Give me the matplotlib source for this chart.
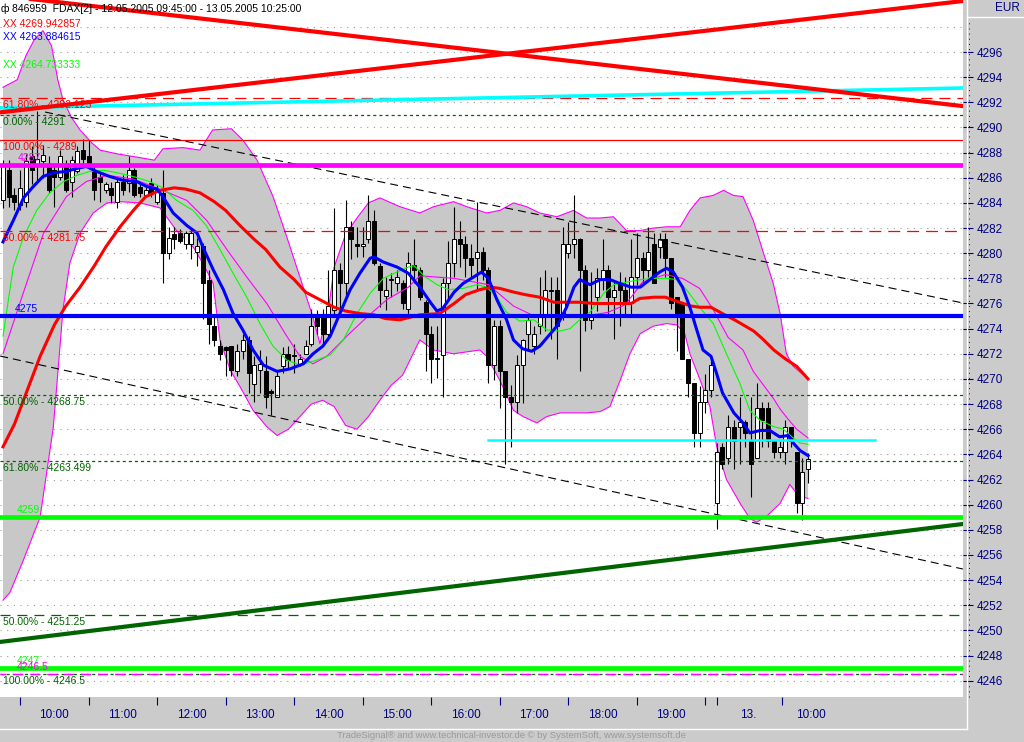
import numpy as np
import matplotlib
matplotlib.use("Agg")
import matplotlib.pyplot as plt
from matplotlib.lines import Line2D

plt.rcParams['font.family'] = ['Liberation Sans', 'DejaVu Sans']
plt.rcParams['lines.scale_dashes'] = False

# ---------------- data ----------------
opens = [4284.2, 4286.6, 4284.6, 4283.8, 4284.1, 4287.7, 4287.0, 4287.3, 4287.0, 4286.6,
         4286.1, 4287.0, 4285.7, 4286.5, 4288.2, 4287.7, 4286.5, 4286.1, 4285.0, 4285.2,
         4284.1, 4285.7, 4285.6, 4286.6, 4285.3, 4284.6, 4285.6, 4284.1, 4284.8, 4280.0,
         4281.5, 4281.6, 4280.7, 4280.7, 4280.1, 4280.6, 4277.9, 4274.2, 4272.6, 4272.5,
         4272.6, 4270.6, 4272.2, 4273.1, 4269.6, 4270.7, 4270.6, 4269.0, 4268.6, 4271.0,
         4272.0, 4271.9, 4271.2, 4272.0, 4272.8, 4274.9, 4274.9, 4273.6, 4275.5, 4278.7,
         4277.6, 4282.1, 4280.7, 4280.6, 4281.1, 4282.6, 4279.0, 4276.6, 4277.9, 4277.6,
         4277.6, 4275.6, 4279.1, 4278.7, 4276.1, 4273.6, 4271.6, 4271.9, 4277.6, 4279.2,
         4281.1, 4280.7, 4279.6, 4279.6, 4280.1, 4278.7, 4271.1, 4274.2, 4270.6, 4268.6,
         4268.2, 4271.1, 4273.6, 4272.6, 4274.2, 4275.2, 4277.1, 4277.1, 4275.2, 4280.0,
         4280.7, 4281.1, 4278.7, 4274.7, 4276.5, 4277.9, 4278.7, 4276.5, 4277.6, 4277.1,
         4276.0, 4278.1, 4279.6, 4278.7, 4280.7, 4280.5, 4281.1, 4279.6, 4276.5, 4276.0,
         4271.6, 4269.7, 4265.7, 4268.2, 4269.1, 4260.1, 4264.6, 4263.7, 4266.2, 4266.2,
         4266.6, 4265.1, 4263.7, 4267.7, 4267.7, 4265.1, 4264.2, 4264.2, 4266.2, 4264.2,
         4260.1, 4262.8]
highs = [4287.4, 4287.4, 4285.2, 4286.6, 4287.9, 4288.5, 4291.3, 4288.6, 4287.7, 4287.1,
         4288.2, 4287.4, 4287.7, 4288.5, 4289.1, 4289.0, 4287.1, 4286.4, 4285.7, 4285.7,
         4286.1, 4286.2, 4287.7, 4286.8, 4285.6, 4285.4, 4286.0, 4285.4, 4286.6, 4282.1,
         4282.1, 4281.9, 4281.8, 4282.0, 4281.2, 4280.8, 4278.7, 4275.0, 4273.1, 4272.6,
         4272.6, 4272.8, 4273.6, 4273.4, 4271.8, 4272.3, 4271.8, 4269.2, 4270.7, 4272.5,
         4272.6, 4272.8, 4272.0, 4273.1, 4275.6, 4275.5, 4275.6, 4278.7, 4283.6, 4279.2,
         4284.2, 4282.6, 4282.1, 4282.1, 4284.6, 4283.4, 4279.2, 4278.1, 4278.4, 4278.7,
         4277.9, 4280.1, 4281.1, 4278.9, 4276.3, 4274.2, 4274.2, 4278.0, 4281.0, 4283.7,
         4282.6, 4281.4, 4280.7, 4284.1, 4280.5, 4278.9, 4274.7, 4274.7, 4270.6, 4269.5,
         4271.9, 4273.2, 4275.0, 4274.2, 4278.1, 4278.7, 4278.1, 4278.1, 4282.1, 4282.5,
         4284.6, 4281.2, 4279.1, 4278.5, 4278.8, 4281.1, 4279.1, 4277.9, 4278.5, 4278.1,
         4281.1, 4281.6, 4280.1, 4282.1, 4281.6, 4281.6, 4281.6, 4279.6, 4276.5, 4276.0,
         4271.6, 4269.7, 4269.4, 4270.4, 4271.6, 4264.9, 4264.9, 4267.1, 4266.7, 4268.6,
         4266.7, 4268.6, 4269.7, 4268.2, 4268.2, 4265.1, 4265.1, 4266.7, 4266.2, 4264.2,
         4263.7, 4264.1]
lows = [4283.6, 4283.7, 4283.4, 4283.4, 4283.7, 4285.5, 4285.6, 4286.0, 4284.8, 4283.7,
        4285.8, 4284.9, 4284.5, 4286.4, 4287.0, 4286.9, 4284.2, 4284.1, 4284.8, 4284.0,
        4283.6, 4284.6, 4284.9, 4284.5, 4284.5, 4284.5, 4284.5, 4283.9, 4277.6, 4279.5,
        4280.3, 4280.8, 4280.3, 4279.5, 4279.0, 4274.8, 4272.8, 4272.6, 4271.5, 4270.2,
        4270.2, 4270.2, 4271.6, 4268.9, 4268.2, 4268.9, 4267.7, 4267.1, 4268.6, 4270.5,
        4270.8, 4270.5, 4271.0, 4272.0, 4272.6, 4273.6, 4272.7, 4273.1, 4275.0, 4275.5,
        4276.5, 4279.5, 4279.7, 4279.7, 4280.8, 4279.1, 4275.7, 4275.5, 4276.5, 4277.0,
        4275.6, 4275.2, 4277.6, 4276.3, 4270.6, 4269.7, 4270.1, 4268.6, 4276.3, 4278.1,
        4278.9, 4278.1, 4278.1, 4277.1, 4277.9, 4269.7, 4269.9, 4267.7, 4263.2, 4264.6,
        4267.3, 4268.1, 4272.2, 4272.0, 4273.6, 4273.8, 4273.2, 4271.6, 4274.7, 4279.6,
        4279.6, 4270.6, 4273.8, 4274.0, 4275.4, 4277.1, 4275.2, 4273.2, 4274.2, 4275.0,
        4275.0, 4277.5, 4277.6, 4278.1, 4277.6, 4279.6, 4278.1, 4275.6, 4272.2, 4271.6,
        4268.6, 4264.6, 4264.6, 4267.3, 4268.6, 4258.1, 4262.8, 4263.2, 4262.8, 4263.2,
        4264.6, 4260.6, 4263.7, 4264.6, 4264.6, 4263.7, 4263.7, 4263.2, 4264.6, 4259.3,
        4258.8, 4261.7]
closes = [4287.0, 4284.5, 4284.1, 4285.2, 4287.3, 4286.6, 4287.5, 4287.8, 4285.0, 4286.1,
          4287.7, 4285.0, 4287.4, 4288.1, 4287.5, 4287.1, 4285.0, 4285.7, 4285.5, 4284.6,
          4285.7, 4285.0, 4286.6, 4284.6, 4284.8, 4285.0, 4284.8, 4285.0, 4280.0, 4281.2,
          4281.1, 4281.0, 4281.6, 4281.6, 4280.6, 4277.6, 4274.4, 4273.1, 4272.0, 4272.3,
          4270.7, 4272.2, 4273.1, 4270.5, 4271.1, 4271.2, 4268.6, 4268.9, 4270.2, 4272.0,
          4271.5, 4271.8, 4271.6, 4272.6, 4274.2, 4274.2, 4273.6, 4275.8, 4278.7, 4277.6,
          4282.1, 4281.1, 4280.6, 4280.7, 4282.6, 4279.2, 4277.1, 4277.1, 4277.9, 4278.1,
          4276.0, 4279.2, 4278.7, 4276.5, 4273.6, 4271.6, 4271.7, 4277.6, 4279.2, 4281.1,
          4280.7, 4279.6, 4279.1, 4280.1, 4278.7, 4271.1, 4274.2, 4270.6, 4268.6, 4268.2,
          4271.1, 4273.1, 4274.7, 4273.6, 4275.2, 4277.1, 4277.0, 4274.2, 4280.7, 4280.7,
          4281.1, 4278.7, 4274.7, 4275.2, 4278.0, 4278.7, 4276.5, 4277.1, 4277.1, 4276.0,
          4278.1, 4279.6, 4278.7, 4280.1, 4277.6, 4281.1, 4279.6, 4276.0, 4275.2, 4271.6,
          4269.7, 4265.7, 4268.2, 4269.1, 4271.1, 4264.2, 4263.2, 4266.2, 4265.1, 4266.6,
          4265.7, 4263.2, 4267.7, 4266.7, 4265.1, 4264.2, 4264.6, 4266.2, 4265.1, 4260.1,
          4262.6, 4263.6]

# moving averages (bar index, price)
red_ma_x = [0, 2, 4, 6.5, 9, 11, 13.5, 16, 18, 20.5, 23, 25, 27.5, 30, 32, 34.5, 37, 39, 41.5, 44,
            46, 48.5, 51, 53, 55.5, 58, 60, 62.5, 65, 67, 69.5, 73, 76.5, 79, 81, 83.5, 85.5, 87,
            89.5, 91.5, 94, 96.5, 99, 101, 103.5, 106, 108, 110, 111.5, 114, 116, 118.5, 120.5,
            122, 124, 126, 128.5, 131.5, 133, 135, 137, 139, 141]
red_ma_y = [4264.6, 4266.4, 4268.8, 4271.8, 4274.3, 4275.8, 4277.3, 4279.0, 4280.5, 4282.1,
            4283.5, 4284.5, 4285.0, 4285.2, 4285.1, 4284.8, 4284.1, 4283.4, 4282.2, 4281.1,
            4280.3, 4278.9, 4277.9, 4276.9, 4276.3, 4275.7, 4275.4, 4275.2, 4275.1, 4274.8,
            4274.7, 4275.1, 4275.2, 4276.0, 4276.7, 4277.1, 4277.3, 4277.2, 4276.9, 4276.7,
            4276.5, 4276.1, 4276.1, 4276.1, 4276.0, 4276.0, 4276.0, 4276.0, 4276.4, 4276.5,
            4276.5, 4276.1, 4275.8, 4275.7, 4275.7, 4275.2, 4274.6, 4273.8, 4273.2, 4272.3,
            4271.6, 4271.0, 4270.0]
blue_ma_x = [0, 1.8, 3.6, 5.3, 7, 8.8, 11, 13, 14.6, 16.4, 18.7, 21, 23.4, 25.2, 27, 28, 29.8,
             32.2, 34, 35, 36.8, 38.6, 40.3, 42, 43.8, 45.6, 48, 50.3, 52.6, 54.3, 56, 57.3, 59,
             60.8, 62.5, 64.3, 65, 66.6, 69, 71, 73, 75, 76, 77, 79, 80.6, 82.4, 83.8, 85, 86.5,
             88.2, 89.4, 91, 92.6, 94, 95.5, 97, 98.7, 100, 101, 102.8, 104.6, 106.3, 108, 110,
             111.6, 113.3, 115, 116.2, 117.4, 119, 120.3, 121.5, 122.6, 124, 125, 126, 128,
             129.6, 130.8, 132.6, 134.3, 136, 137.5, 138.4, 139.6, 141]
blue_ma_y = [4280.9, 4282.6, 4284.4, 4285.3, 4286.1, 4286.4, 4286.5, 4286.75, 4286.9, 4286.5,
             4286.1, 4285.8, 4285.7, 4285.3, 4285.1, 4284.5, 4283.2, 4282.2, 4281.6, 4280.5,
             4278.7, 4277.1, 4275.2, 4273.9, 4272.3, 4271.1, 4270.6, 4270.8, 4271.2, 4272.0,
             4272.6, 4273.4, 4275.2, 4277.1, 4278.4, 4279.6, 4279.7, 4279.3, 4278.9, 4278.4,
             4277.3, 4276.0, 4275.4, 4275.6, 4276.9, 4277.6, 4278.1, 4278.5, 4278.0, 4276.3,
             4274.7, 4273.1, 4272.4, 4272.2, 4272.6, 4273.4, 4274.2, 4275.7, 4277.3, 4277.9,
             4277.5, 4277.9, 4277.9, 4277.6, 4277.3, 4277.3, 4277.9, 4278.5, 4278.8, 4278.5,
             4277.3, 4275.7, 4273.9, 4272.3, 4271.8, 4270.4, 4268.9, 4267.3, 4266.5, 4265.7,
             4265.9, 4265.9, 4265.4, 4265.5, 4264.9, 4264.3, 4263.9]
green_ma_x = [0, 1.8, 3.6, 5.9, 8.2, 10.6, 13, 15.2, 17.6, 20, 22.8, 25.7, 28, 30.4, 33.3, 35.6,
              38, 40.3, 42.7, 45, 47.3, 49.7, 52, 54.3, 57.3, 59.6, 62, 64.3, 66.6, 69, 71, 72,
              74, 76, 78, 80.6, 83, 84.7, 86.5, 88.2, 90.5, 93, 95.2, 97.5, 99.3, 101, 102.8,
              105.2, 107, 109.2, 111.6, 114, 116.2, 118, 119.7, 122, 124.4, 126.7, 129, 130.8,
              132.6, 135, 136.7, 138.4, 139.6, 141]
green_ma_y = [4273.4, 4278.9, 4281.3, 4283.4, 4284.8, 4285.7, 4286.2, 4286.5, 4286.6, 4286.4,
              4286.1, 4285.7, 4285.2, 4284.2, 4283.4, 4282.2, 4280.3, 4278.4, 4276.5, 4274.4,
              4272.6, 4271.5, 4271.1, 4271.4, 4271.9, 4273.1, 4275.2, 4276.8, 4278.0, 4278.5,
              4278.9, 4279.0, 4278.1, 4277.5, 4277.1, 4277.2, 4277.5, 4277.3, 4276.5, 4275.3,
              4274.6, 4274.7, 4273.9, 4273.8, 4274.0, 4274.7, 4275.3, 4276.8, 4277.5, 4277.7,
              4277.9, 4278.0, 4278.0, 4277.9, 4277.1, 4275.7, 4274.4, 4272.0, 4269.7, 4267.5,
              4266.7, 4266.2, 4266.0, 4265.3, 4264.9, 4264.8]

# Bollinger bands (bar index, price)
bb_up_x = [0, 2.5, 4, 5.5, 7, 8.5, 9.6, 10.5, 12, 13.5, 15.5, 17, 20, 24, 26.5, 28, 31.5, 34.5,
           36.7, 40, 42, 44.5, 47.3, 49.7, 52, 54.3, 55.5, 57, 58, 60, 62, 64, 66, 68, 69.5, 73,
           75.4, 78.9, 81.2, 84.7, 87, 89.4, 91.7, 94, 97, 99.9, 102.2, 104.6, 106.9, 109.2,
           111.6, 113.9, 116.2, 118.6, 120.3, 122.1, 124.4, 126.2, 127.9, 129.6, 131.4, 133.2,
           134.9, 136.1, 137.2, 138.4, 141]
bb_up_y = [4293.2, 4293.8, 4295.7, 4297.0, 4297.7, 4296.5, 4293.8, 4292.2, 4290.8, 4289.8,
           4288.8, 4288.2, 4287.9, 4287.6, 4287.4, 4288.3, 4288.4, 4288.2, 4289.8, 4289.9,
           4289.0, 4287.4, 4284.5, 4281.3, 4278.1, 4274.9, 4272.8, 4275.5, 4278.9, 4281.5,
           4282.8, 4284.0, 4284.4, 4284.0, 4283.7, 4283.2, 4283.7, 4284.1, 4283.7, 4283.2,
           4283.4, 4284.0, 4283.7, 4283.2, 4282.9, 4283.4, 4282.8, 4282.8, 4282.9, 4281.8,
           4281.8, 4282.0, 4282.1, 4282.1, 4283.4, 4284.4, 4284.6, 4285.0, 4284.6, 4284.5,
           4282.6, 4280.0, 4277.6, 4275.2, 4272.0, 4271.0, 4270.0]
bb_mid_x = [0, 3.6, 7.1, 11.1, 14.6, 18.2, 22.8, 26.9, 32.2, 35.7, 39.2, 42.7, 46.2, 49.7, 52,
            54.3, 56.7, 60.2, 63.7, 67.2, 71, 73, 79, 85, 89.4, 93.5, 97, 102, 106, 109, 112,
            116, 119, 122, 124.4, 127, 129.6, 131.4, 133.2, 135, 136.1, 137.5, 139, 141]
bb_mid_y = [4272.0, 4276.9, 4281.6, 4284.5, 4285.7, 4286.2, 4285.9, 4285.2, 4284.2, 4282.6,
            4280.3, 4278.1, 4276.0, 4273.4, 4271.8, 4271.2, 4271.8, 4273.4, 4274.9, 4276.3,
            4277.3, 4278.2, 4278.0, 4277.5, 4275.8, 4274.9, 4275.1, 4275.0, 4275.3, 4275.9,
            4277.7, 4278.3, 4278.0, 4277.2, 4275.5, 4273.3, 4272.3, 4270.6, 4269.5, 4268.4,
            4267.6, 4266.8, 4266.0, 4265.3]
bb_low_x = [0, 1.2, 3.5, 6.5, 8.8, 9.5, 10.5, 11.7, 13.5, 15.8, 18.2, 20.5, 24, 27.5, 30.4,
            33.3, 35, 36.8, 38, 39.8, 41.5, 43.8, 46.2, 48, 50, 52, 54, 56, 58, 60, 62, 64, 66,
            68, 70, 73, 75.4, 78.9, 83.5, 84.7, 87, 89.4, 91.1, 93.5, 95.2, 97.6, 102.2, 104.6,
            106.3, 108.1, 109.8, 111.6, 113.9, 116.2, 118, 119.4, 120.3, 122.1, 123.8, 125,
            126.7, 129.1, 130.8, 132, 133.8, 136.1, 137.8, 139, 140, 141]
bb_low_y = [4252.4, 4253.0, 4255.5, 4259.0, 4266.1, 4269.9, 4275.5, 4279.2, 4281.6, 4283.2,
            4284.0, 4284.1, 4284.0, 4283.6, 4281.8, 4280.5, 4279.2, 4277.6, 4273.1, 4270.7,
            4269.4, 4267.5, 4266.2, 4265.5, 4266.0, 4267.0, 4268.0, 4268.3, 4267.8, 4266.3,
            4266.0, 4267.0, 4268.3, 4269.5, 4270.3, 4273.1, 4272.3, 4272.0, 4272.3, 4271.8,
            4269.9, 4267.5, 4267.0, 4266.5, 4267.0, 4267.3, 4267.3, 4267.4, 4267.8, 4269.9,
            4272.0, 4273.6, 4274.2, 4274.4, 4274.3, 4273.6, 4272.0, 4269.9, 4267.8, 4264.6,
            4262.0, 4260.1, 4258.9, 4258.6, 4259.1, 4260.1, 4261.6, 4260.9, 4260.6, 4260.5]

# horizontal levels
green_fib_levels = [4291.0, 4268.75, 4263.499, 4251.25, 4246.5]
green_fib_labels = ["0.00% - 4291", "50.00% - 4268.75", "61.80% - 4263.499",
                    "50.00% - 4251.25", "100.00% - 4246.5"]
red_fib_levels = [4292.34, 4289.0, 4281.75]
red_fib_labels = ["61.80% - 4292.125", "100.00% - 4289", "50.00% - 4281.75"]
magenta_levels = [4287.0, 4246.5]
magenta_labels = ["4287", "4246.5"]
blue_level = 4275.0
lime_levels = [4259.0, 4247.0]
cyan_short = (84.9, 152.7, 4265.14)

# trend lines: (x0, y0, x1, y1) in bar index / price
red_line_down = (-0.5, 4300.5, 168.1, 4291.7)
red_line_up = (-0.5, 4291.2, 168.1, 4300.06)
cyan_line = (-0.5, 4291.55, 168.1, 4293.14)
dkgreen_line = (-0.5, 4249.08, 168.1, 4258.46)
channel_upper = (7.36, 4291.23, 168.1, 4276.04)
channel_lower = (-0.5, 4271.82, 168.1, 4254.88)

grid_levels = list(range(4246, 4299, 2))
ytick_values = list(range(4246, 4297, 2))
xtick_bars = [3, 15, 27, 39, 51, 63, 75, 87, 99, 111, 123, 125, 136.5]
xlabel_bars = [9, 21, 33, 45, 57, 69, 81, 93, 105, 117, 130.5, 141.5]
xlabel_texts = ["10:00", "11:00", "12:00", "13:00", "14:00", "15:00", "16:00", "17:00",
                "18:00", "19:00", "13.", "10:00"]

title_text = "846959  FDAX[2] - 12.05.2005 09:45:00 - 13.05.2005 10:25:00"
legend_texts = ["XX 4269.942857", "XX 4263.884615", "XX 4264.733333"]
footer_text = "TradeSignal\u00ae and www.technical-investor.de \u00a9 by SystemSoft, www.systemsoft.de"

# ---------------- figure ----------------
W, H = 1024, 742
PANEL = '#cbcbcb'
NAVY = '#000080'
fig = plt.figure(figsize=(W / 100, H / 100), dpi=100, facecolor=PANEL)

def fx(px):
    return px / W

def fy(py):
    return 1 - py / H

ax = fig.add_axes([0, fy(697), fx(963), 697 / H])
ax.set_facecolor('white')
ax.set_xlim(-0.525, 168.13)
ax.set_ylim(4244.70, 4300.14)
for s in ax.spines.values():
    s.set_visible(False)

# grid
for g in grid_levels:
    ax.axhline(g, color='#9a9a9a', lw=0.8, ls=(0, (0.8, 4.0)), zorder=0.5)

# bollinger fill + lines
poly_x = np.r_[bb_up_x, bb_low_x[::-1]]
poly_y = np.r_[bb_up_y, bb_low_y[::-1]]
ax.fill(poly_x, poly_y, color='#c8c8c8', zorder=1, lw=0)
ax.plot(bb_up_x, bb_up_y, color='#ff00ff', lw=0.8, zorder=2)
ax.plot(bb_low_x, bb_low_y, color='#ff00ff', lw=0.8, zorder=2)
ax.plot(bb_mid_x, bb_mid_y, color='#ff00ff', lw=0.8, zorder=6)

# candles
o = np.array(opens); h = np.array(highs); l = np.array(lows); c = np.array(closes)
xi = np.arange(len(o))
up = c >= o
ax.vlines(xi, l, h, color='black', lw=0.8, zorder=4)
body_h = np.maximum(np.abs(c - o), 0.06)
ax.bar(xi, body_h, bottom=np.minimum(o, c), width=0.7,
       color=np.where(up, 'white', 'black'), edgecolor='black', linewidth=0.7, zorder=5)

# moving averages
ax.plot(green_ma_x, green_ma_y, color='#00ff00', lw=0.8, zorder=6)
ax.plot(red_ma_x, red_ma_y, color='#ff0000', lw=2.2, zorder=7)
ax.plot(blue_ma_x, blue_ma_y, color='#0000ff', lw=2.2, zorder=7)

# horizontal levels
gf_styles = [(0, (2.2, 2.2)), (0, (2.2, 2.2)), (0, (2.2, 2.2)), (0, (7.2, 5.0)), (0, (2.2, 2.2))]
for lv, lab, st in zip(green_fib_levels, green_fib_labels, gf_styles):
    ax.axhline(lv, color='#006400', lw=0.9, ls=st, zorder=8)
    ax.annotate(lab, xy=(0, lv), xycoords=('axes fraction', 'data'), xytext=(3, -2),
                textcoords='offset pixels', va='top', ha='left', color='#006400',
                fontsize=7.5, zorder=12)
rf_styles = [(0, (8.0, 5.0)), '-', (0, (8.6, 5.0))]
for lv, lab, st in zip(red_fib_levels, red_fib_labels, rf_styles):
    ax.axhline(lv, color='#ff0000', lw=0.9, ls=st, zorder=8)
    ax.annotate(lab, xy=(0, lv), xycoords=('axes fraction', 'data'), xytext=(3, -2),
                textcoords='offset pixels', va='top', ha='left', color='#ff0000',
                fontsize=7.5, zorder=12)

ax.axhline(magenta_levels[0], color='#ff00ff', lw=3.4, zorder=9)
ax.axhline(magenta_levels[1], color='#ff00ff', lw=1.0, ls=(3, (7.2, 5.0)), zorder=9)
ax.axhline(blue_level, color='#0000ff', lw=3.0, zorder=9)
for lv in lime_levels:
    ax.axhline(lv, color='#00ff00', lw=3.4, zorder=9)

def level_label(txt, lv, xoff, col):
    ax.annotate(txt, xy=(0, lv), xycoords=('axes fraction', 'data'), xytext=(xoff, 2),
                textcoords='offset pixels', va='bottom', ha='left', color=col,
                fontsize=7.5, zorder=12)

level_label(magenta_labels[0], magenta_levels[0], 18, '#ff00ff')
level_label("4275", blue_level, 15, '#0000ff')
level_label("4259", lime_levels[0], 17, '#00ff00')
level_label("4247", lime_levels[1], 17, '#00ff00')
level_label(magenta_labels[1], magenta_levels[1], 17, '#ff00ff')

ax.plot([cyan_short[0], cyan_short[1]], [cyan_short[2]] * 2, color='#00ffff', lw=1.8, zorder=9)

# trend lines
def tline(t, **kw):
    ax.plot([t[0], t[2]], [t[1], t[3]], **kw)

tline(channel_upper, color='black', lw=0.8, ls=(0, (5.8, 3.6)), zorder=8)
tline(channel_lower, color='black', lw=0.8, ls=(0, (5.8, 3.6)), zorder=8)
tline(cyan_line, color='#00ffff', lw=2.6, zorder=10)
tline(red_line_down, color='#ff0000', lw=3.0, zorder=10)
tline(red_line_up, color='#ff0000', lw=3.0, zorder=10)
tline(dkgreen_line, color='#006400', lw=3.0, zorder=10)

# right axis
ax.yaxis.tick_right()
ax.set_yticks(ytick_values)
ax.set_yticklabels([str(v) for v in ytick_values])
ax.set_yticks(np.arange(4245.5, 4299.6, 0.5), minor=True)
ax.tick_params(axis='y', which='major', direction='out', length=7, width=0.8,
               color=NAVY, labelcolor=NAVY, labelsize=8.5, pad=3)
ax.tick_params(axis='y', which='minor', direction='out', length=0, pad=0)

# bottom axis
ax.set_xticks(xtick_bars)
ax.set_xticklabels([''] * len(xtick_bars))
ax.set_xticks(xlabel_bars, minor=True)
ax.set_xticklabels(xlabel_texts, minor=True)
ax.tick_params(axis='x', which='major', direction='out', length=6, width=0.8,
               color=NAVY, pad=0)
ax.tick_params(axis='x', which='minor', length=0, labelcolor=NAVY, labelsize=8.5, pad=9)

# panel decorations
fig.add_artist(Line2D([fx(963), fx(969)], [fy(400)] * 2, color=PANEL, lw=0))
fig.add_artist(Line2D([fx(966.5)] * 2, [fy(729), fy(0)], color='white', lw=1))
fig.add_artist(Line2D([fx(0), fx(966.5)], [fy(729)] * 2, color='white', lw=1))
fig.add_artist(Line2D([fx(966.5), fx(1024)], [fy(17)] * 2, color='white', lw=1))
fig.add_artist(Line2D([fx(969)] * 2, [fy(697), fy(20)], color=NAVY, lw=0.7,
                      ls=(0, (0.7, 3.0))))
fig.text(fx(1020), fy(8), "EUR", color=NAVY, fontsize=8.5, ha='right', va='center')

# title and legend
fig.text(fx(5), fy(9), "\u0444", color='black', fontsize=7.5, ha='center', va='center')
fig.text(fx(12), fy(9), title_text, color='black', fontsize=7.5, ha='left', va='center')
for txt, col, py in zip(legend_texts, ['#ff0000', '#0000ff', '#00ff00'], [24, 37, 65]):
    fig.text(fx(3), fy(py), txt, color=col, fontsize=7.5, ha='left', va='center')

fig.text(fx(511), fy(736), footer_text, color='#9a9a9a', fontsize=6.8, ha='center', va='center')

fig.savefig('out.png', dpi=100, facecolor=PANEL)
